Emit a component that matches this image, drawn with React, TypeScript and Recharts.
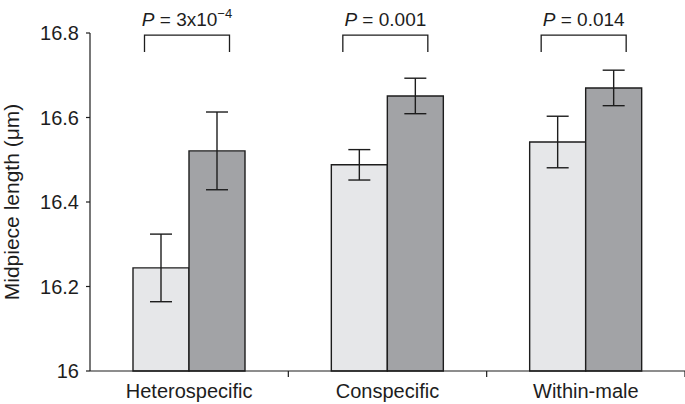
import React from 'react';
import { BarChart, Bar, XAxis, YAxis, ErrorBar } from 'recharts';

const categories = ['Heterospecific', 'Conspecific', 'Within-male'];
const lightMeans = [16.244, 16.488, 16.542];
const lightErrors = [0.08, 0.036, 0.061];
const darkMeans = [16.521, 16.651, 16.67];
const darkErrors = [0.092, 0.042, 0.042];
const pBase = ['3x10', '0.001', '0.014'];
const pExponent = ['−4', '', ''];
const yTicks = [16, 16.2, 16.4, 16.6, 16.8];

const W = 685;
const H = 404;
const TOP = 33;
const LEFT = 90;
const XAXIS_H = 33;
const PLOT_H = H - TOP - XAXIS_H;
const Y_MIN = 16;
const Y_MAX = 16.8;
const BAND = (W - LEFT) / categories.length;
const FONT = '"Liberation Sans", Arial, Helvetica, sans-serif';
const INK = '#1d1d1d';

const data = categories.map((name, i) => ({
  name,
  light: lightMeans[i],
  lightErr: lightErrors[i],
  dark: darkMeans[i],
  darkErr: darkErrors[i],
}));

// value -> pixel, same linear mapping as the y axis
const toY = (v: number) => TOP + ((Y_MAX - v) / (Y_MAX - Y_MIN)) * PLOT_H;

const Bracket = (props: any) => {
  const { x, index } = props;
  const cx = x - 2; // dark bar starts at the category centre
  const half = 42.5;
  const top = toY(16.795);
  const legs = toY(16.755);
  return (
    <g>
      <path
        d={`M${cx - half},${legs} L${cx - half},${top} L${cx + half},${top} L${cx + half},${legs}`}
        fill="none"
        stroke={INK}
        strokeWidth={1.3}
      />
      <text x={cx} y={26} textAnchor="middle" fontFamily={FONT} fontSize={19} fill={INK}>
        <tspan fontStyle="italic">P</tspan>
        <tspan> = {pBase[index]}</tspan>
        {pExponent[index] ? (
          <tspan dy={-8} fontSize={13}>{pExponent[index]}</tspan>
        ) : null}
      </text>
    </g>
  );
};

const CategoryTick = (props: any) => {
  const { x, payload } = props;
  const axisY = TOP + PLOT_H;
  return (
    <g>
      <line x1={x + BAND / 2} y1={axisY} x2={x + BAND / 2} y2={axisY + 6} stroke={INK} strokeWidth={1.2} />
      <text x={x} y={axisY + 27} textAnchor="middle" fontFamily={FONT} fontSize={20} fill={INK}>
        {payload.value}
      </text>
    </g>
  );
};

const App: React.FC = () => {
  return (
    <div style={{ position: 'absolute', left: 0, top: 0, width: W, height: H, background: '#fff' }}>
      <BarChart
        width={W}
        height={H}
        data={data}
        margin={{ top: TOP, right: 0, bottom: 0, left: 0 }}
        barGap={0}
        barSize={56}
      >
        <XAxis
          dataKey="name"
          height={XAXIS_H}
          axisLine={{ stroke: INK, strokeWidth: 1.2 }}
          tickLine={false}
          tick={<CategoryTick />}
          interval={0}
        />
        <YAxis
          width={LEFT}
          domain={[Y_MIN, Y_MAX]}
          ticks={yTicks}
          interval={0}
          axisLine={{ stroke: INK, strokeWidth: 1.2 }}
          tickLine={{ stroke: INK, strokeWidth: 1.2 }}
          tickSize={4}
          tickMargin={7}
          tick={{ fontFamily: FONT, fontSize: 20, fill: INK }}
          tickFormatter={(v: number) => (v === 16 ? '16' : v.toFixed(1))}
          label={{
            value: 'Midpiece length (μm)',
            angle: -90,
            position: 'insideLeft',
            offset: 12,
            style: { textAnchor: 'middle', fontFamily: FONT, fontSize: 21, fill: INK },
          }}
        />
        <Bar dataKey="light" fill="#e6e7e9" stroke={INK} strokeWidth={1.4} isAnimationActive={false}>
          <ErrorBar dataKey="lightErr" width={11} stroke={INK} strokeWidth={1.4} direction="y" />
        </Bar>
        <Bar
          dataKey="dark"
          fill="#a2a3a6"
          stroke={INK}
          strokeWidth={1.4}
          isAnimationActive={false}
          label={<Bracket />}
        >
          <ErrorBar dataKey="darkErr" width={11} stroke={INK} strokeWidth={1.4} direction="y" />
        </Bar>
      </BarChart>
    </div>
  );
};

export default App;
